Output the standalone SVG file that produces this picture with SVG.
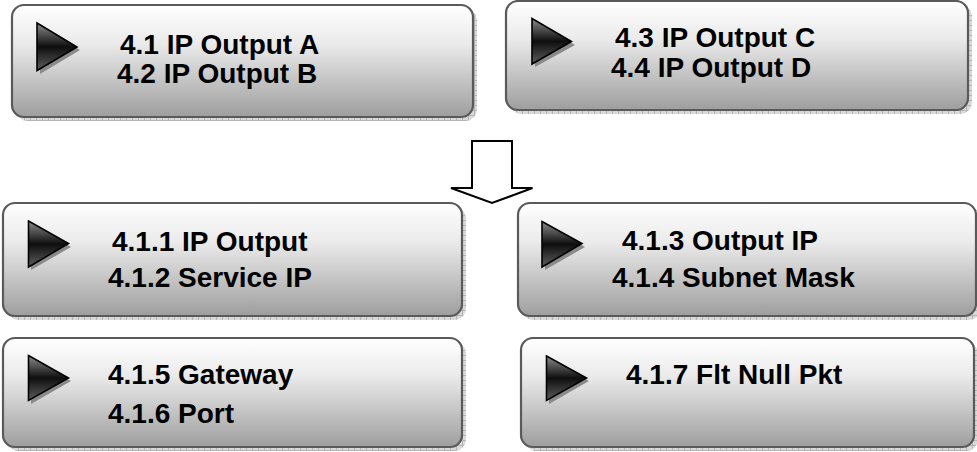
<svg xmlns="http://www.w3.org/2000/svg" width="977" height="452" viewBox="0 0 977 452">
<defs>
<linearGradient id="boxGrad" x1="0" y1="0" x2="0" y2="1">
<stop offset="0" stop-color="#ffffff"/>
<stop offset="0.35" stop-color="#eaeaea"/>
<stop offset="1" stop-color="#9e9e9e"/>
</linearGradient>
<linearGradient id="triGrad" x1="0" y1="0" x2="0" y2="1">
<stop offset="0" stop-color="#8c8c8c"/>
<stop offset="0.5" stop-color="#0e0e0e"/>
<stop offset="1" stop-color="#5e5e5e"/>
</linearGradient>
<pattern id="grid" width="6" height="5" patternUnits="userSpaceOnUse">
<rect width="6" height="5" fill="#d9d9d9"/>
<path d="M0 0.5H6M0.5 0V5" stroke="#b5b5b5" stroke-width="1" fill="none"/>
</pattern>
</defs>
<style>
.shadow{fill:url(#grid);}
.box{fill:url(#boxGrad);stroke:#5a5a5a;stroke-width:2.2;}
.tri{fill:url(#triGrad);stroke:#000;stroke-width:1.6;stroke-linejoin:miter;}
.trish{fill:#8a8a8a;}
.lbl{font-family:"Liberation Sans",Arial,sans-serif;font-weight:bold;font-size:28px;fill:#000;}
.conn{fill:#fff;stroke:#000;stroke-width:2;stroke-linejoin:miter;}
</style>

<g id="node-4-1">
<rect class="shadow" x="16" y="9" width="461" height="112" rx="12"/>
<rect class="box" x="12" y="5" width="461" height="112" rx="12"/>
<polygon class="trish" points="40,26 80,50 40,74"/>
<polygon class="tri" points="37,23 77,47 37,70.5"/>
<text class="lbl" x="120" y="53.5">4.1 IP Output A</text>
<text class="lbl" x="117" y="83">4.2 IP Output B</text>
</g>

<g id="node-4-3">
<rect class="shadow" x="510" y="5" width="462" height="109" rx="12"/>
<rect class="box" x="506" y="1" width="462" height="109" rx="12"/>
<polygon class="trish" points="535,21 575,45 535,67"/>
<polygon class="tri" points="532,18.5 571.5,41.5 532,64"/>
<text class="lbl" x="615" y="46.5">4.3 IP Output C</text>
<text class="lbl" x="611" y="77">4.4 IP Output D</text>
</g>

<g id="node-4-1-1">
<rect class="shadow" x="7" y="207" width="459" height="113" rx="12"/>
<rect class="box" x="3" y="203" width="459" height="113" rx="12"/>
<polygon class="trish" points="31,224 71,247 31,270"/>
<polygon class="tri" points="28.5,221 68.5,243.5 28.5,267"/>
<text class="lbl" x="112" y="250.5">4.1.1 IP Output</text>
<text class="lbl" x="108" y="286.5">4.1.2 Service IP</text>
</g>

<g id="node-4-1-3">
<rect class="shadow" x="522" y="207" width="459" height="113" rx="12"/>
<rect class="box" x="518" y="203" width="458" height="113" rx="12"/>
<polygon class="trish" points="545,225 585,247 545,270"/>
<polygon class="tri" points="542,221.5 582,243.5 542,267"/>
<text class="lbl" x="622" y="250">4.1.3 Output IP</text>
<text class="lbl" x="612" y="286.5">4.1.4 Subnet Mask</text>
</g>

<g id="node-4-1-5">
<rect class="shadow" x="7" y="342" width="459" height="109" rx="12"/>
<rect class="box" x="3" y="338" width="459" height="109" rx="12"/>
<polygon class="trish" points="31,359 71,381 31,404"/>
<polygon class="tri" points="28.5,355.5 68.5,378 28.5,400.5"/>
<text class="lbl" x="108" y="383.5">4.1.5 Gateway</text>
<text class="lbl" x="108" y="423">4.1.6 Port</text>
</g>

<g id="node-4-1-7">
<rect class="shadow" x="525" y="342" width="453" height="109" rx="12"/>
<rect class="box" x="521" y="338" width="453" height="109" rx="12"/>
<polygon class="trish" points="549,359 589,381 549,404"/>
<polygon class="tri" points="546.5,356 586.5,378 546.5,400.5"/>
<text class="lbl" x="626" y="383.5">4.1.7 Flt Null Pkt</text>
</g>

<g id="connectors">
<polygon class="conn" points="472,141 512,141 512,188 532.5,188 492,203 451,188 472,188"/>
</g>
</svg>
